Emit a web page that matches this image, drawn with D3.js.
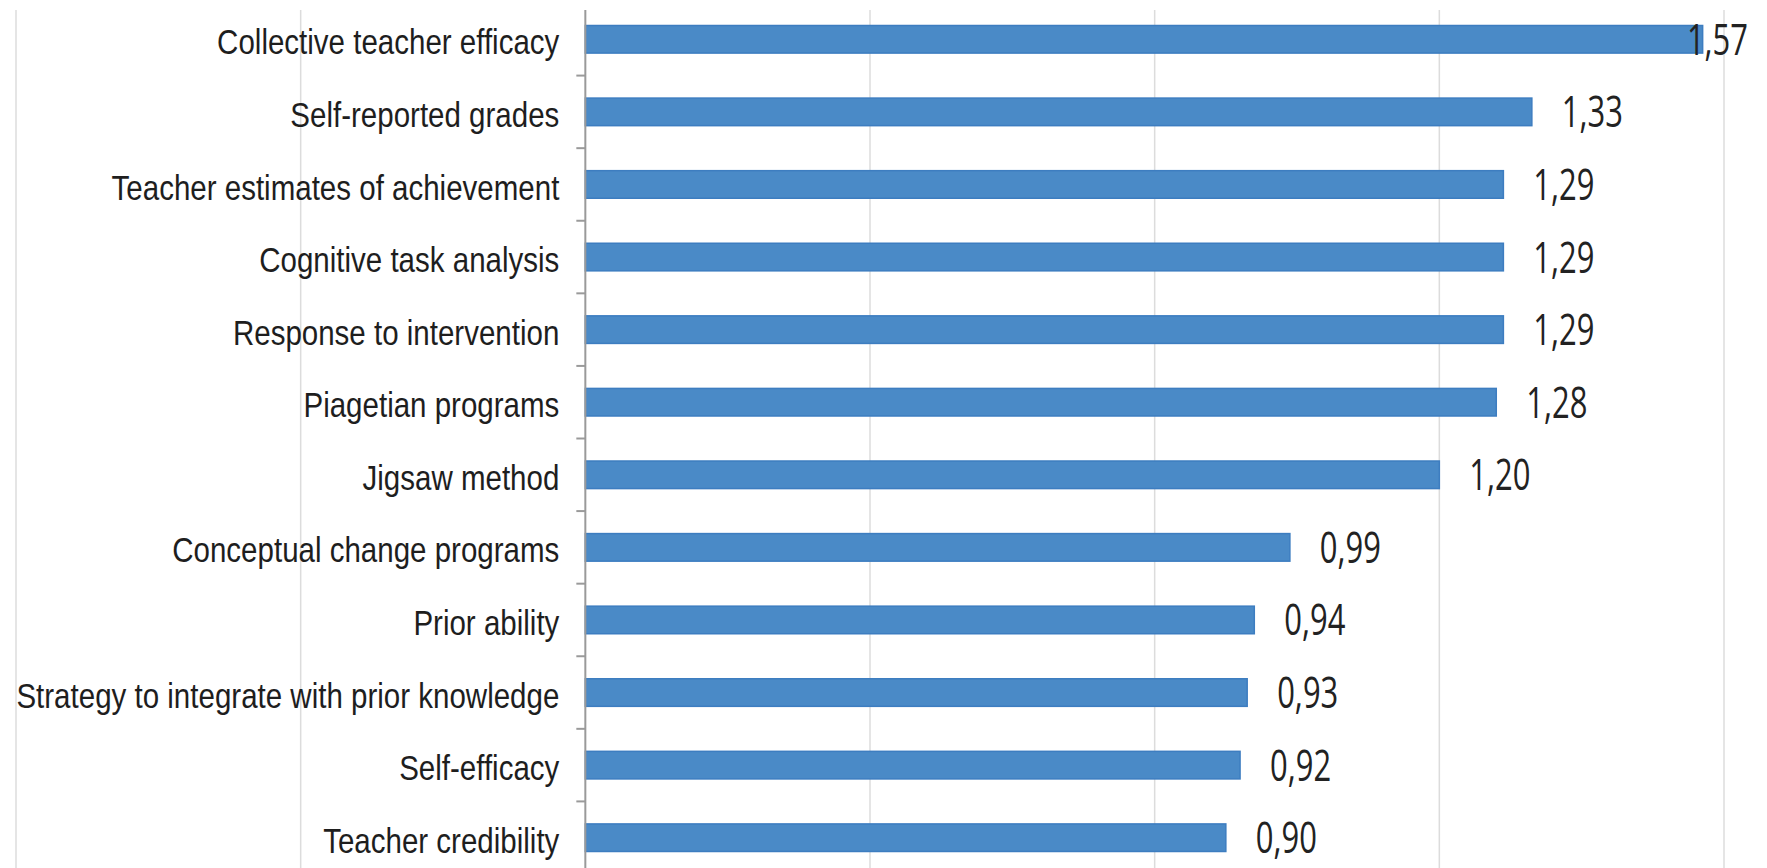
<!DOCTYPE html>
<html>
<head>
<meta charset="utf-8">
<script src="https://cdn.jsdelivr.net/npm/d3@7"></script>
<style>
  body { margin: 0; background: #fff; }
  svg { display: block; }
</style>
</head>
<body>
<script>
// data
var categories = ["Collective teacher efficacy", "Self-reported grades", "Teacher estimates of achievement",
                  "Cognitive task analysis", "Response to intervention", "Piagetian programs", "Jigsaw method",
                  "Conceptual change programs", "Prior ability", "Strategy to integrate with prior knowledge",
                  "Self-efficacy", "Teacher credibility"];
var values = [1.57, 1.33, 1.29, 1.29, 1.29, 1.28, 1.20, 0.99, 0.94, 0.93, 0.92, 0.90];
var gridTicks = [-0.8, -0.4, 0.4, 0.8, 1.2, 1.6];

var W = 1767, H = 868;
var plotTop = 10;

var svg = d3.select("body")
            .append("svg")
            .attr('width', W)
            .attr('height', H);

// scales
var x = d3.scaleLinear()
          .domain([-0.8, 1.6])
          .range([16, 1724]);

var y = d3.scaleBand()
          .domain(categories)
          .range([3, 874])
          .paddingInner(0.62)
          .paddingOuter(0.31);

var commaFmt = d3.formatLocale({decimal: ",", thousands: ".", grouping: [3], currency: ["", ""]}).format(".2f");

// gridlines
svg.append("g")
   .attr('id', "grid")
   .selectAll("line")
   .data(gridTicks)
   .enter()
   .append("line")
   .attr('x1', function(d){ return x(d); })
   .attr('x2', function(d){ return x(d); })
   .attr('y1', plotTop)
   .attr('y2', H)
   .style('stroke', "#dcdcdc")
   .style('stroke-width', "1.5px");

// bars
svg.append("g")
   .selectAll("rect")
   .data(values)
   .enter()
   .append("rect")
   .attr('x', x(0))
   .attr('y', function(d,i){ return y(categories[i]); })
   .attr('width', function(d){ return x(d) - x(0); })
   .attr('height', y.bandwidth())
   .style('fill', "#4a8ac7")
   .style('stroke', "#3d7dc0")
   .style('stroke-width', "1.5px");

// category axis
var yAxis = svg.append("g")
               .attr('id', "yAxis")
               .attr('transform', "translate(" + x(0) + ",0)")
               .call(d3.axisLeft(y).tickSize(0).tickPadding(0));

yAxis.select("path.domain").remove();
yAxis.append("line")
     .attr('x1', 0).attr('x2', 0)
     .attr('y1', plotTop).attr('y2', H)
     .style('stroke', "#9a9a9a")
     .style('stroke-width', "2px");

yAxis.selectAll("g.tick text")
     .attr('x', -26 / 0.82)
     .attr('dy', "0.42em")
     .attr('transform', "scale(0.82,1)")
     .style('font-family', "'Liberation Sans', Arial, sans-serif")
     .style('font-size', "36px")
     .style('fill', "#1e1e1e");

// small ticks between categories
var halfGap = y.step() * y.paddingInner() / 2;
yAxis.append("g")
     .selectAll("line")
     .data(categories.slice(1))
     .enter()
     .append("line")
     .attr('x1', -9).attr('x2', 0)
     .attr('y1', function(d){ return y(d) - halfGap; })
     .attr('y2', function(d){ return y(d) - halfGap; })
     .style('stroke', "#9a9a9a")
     .style('stroke-width', "2px");

// value labels, comma decimals
var labelScale = 0.72, gap = 30, rightLimit = 1748;
svg.append("g")
   .selectAll("text")
   .data(values)
   .enter()
   .append("text")
   .text(function(d){ return commaFmt(d); })
   .attr('y', function(d,i){ return y(categories[i]) + y.bandwidth()/2 + 15.5; })
   .style('font-family', "'Open Sans', sans-serif")
   .style('font-size', "43px")
   .style('fill', "#222")
   .each(function(d){
       var w = this.getComputedTextLength() * labelScale;
       var left = Math.min(x(d) + gap, rightLimit - w);
       d3.select(this)
         .attr('x', left / labelScale)
         .attr('transform', "scale(" + labelScale + ",1)");
   });
</script>
</body>
</html>
